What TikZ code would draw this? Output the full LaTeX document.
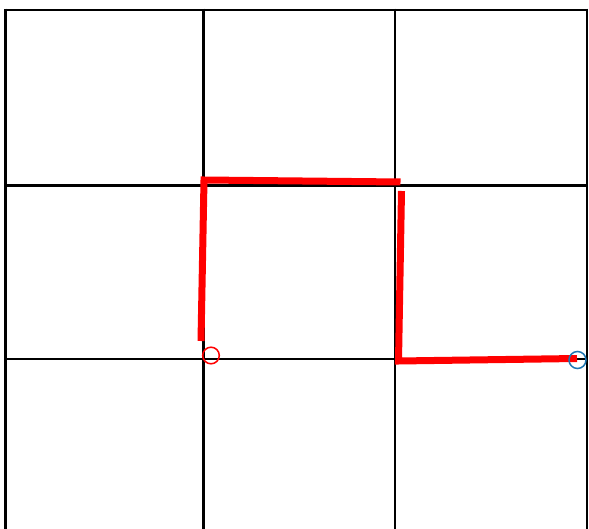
\documentclass[tikz,border=0pt]{standalone}
\definecolor{mplblue}{HTML}{1F77B4}
\tikzset{
  gridline/.style={black,line width=2.6pt},
  pathline/.style={red,line width=7pt},
  marker/.style={line width=1.5pt},
}
\begin{document}
\begin{tikzpicture}[x=1pt,y=-1pt]
\useasboundingbox (0,0) rectangle (589,529);
% grid
\foreach \x in {5.5,203.5,395,587}
  \draw[gridline] (\x,8.7) -- (\x,529);
\foreach \y in {10,185.5,359}
  \draw[gridline] (4.2,\y) -- (588.3,\y);
% red path
\draw[pathline] (201,341) -- (204,180) -- (400.5,182);
\draw[pathline] (401.5,191) -- (398.5,361) -- (577,358.5);
% markers
\draw[marker,red] (211,355.5) circle (8.3);
\draw[marker,mplblue] (577.5,360) circle (8.5);
\end{tikzpicture}
\end{document}
